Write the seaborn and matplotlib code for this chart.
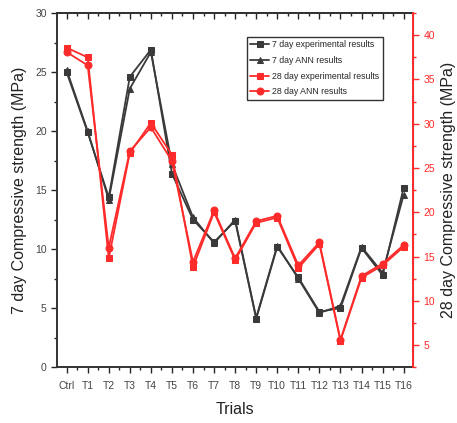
import numpy as np
import pandas as pd
import matplotlib
matplotlib.use("Agg")
import matplotlib.pyplot as plt
import seaborn as sns
from matplotlib.ticker import MultipleLocator

sns.set_style("ticks")
plt.rcParams['font.family'] = ['Liberation Sans', 'DejaVu Sans']

trials = ['Ctrl', 'T1', 'T2', 'T3', 'T4', 'T5', 'T6', 'T7', 'T8', 'T9',
          'T10', 'T11', 'T12', 'T13', 'T14', 'T15', 'T16']

exp_7 = [25.0, 19.9, 14.4, 24.6, 26.9, 16.4, 12.5, 10.6, 12.4, 4.1,
         10.2, 7.6, 4.7, 5.0, 10.1, 7.8, 15.2]
ann_7 = [25.2, 20.0, 14.2, 23.6, 26.7, 17.2, 12.7, 10.5, 12.5, 4.2,
         10.3, 7.5, 4.6, 5.2, 10.2, 8.0, 14.6]
exp_28 = [38.6, 37.5, 14.8, 26.7, 30.1, 26.5, 13.8, 20.0, 14.6, 18.8,
          19.4, 13.7, 16.4, 5.5, 12.6, 14.0, 16.1]
ann_28 = [38.1, 36.6, 16.0, 26.9, 29.6, 25.8, 14.4, 20.2, 14.8, 19.0,
          19.6, 14.0, 16.6, 5.6, 12.8, 14.2, 16.3]

df = pd.DataFrame({'pos': np.arange(len(trials)), 'trial': trials,
                   'exp_7': exp_7, 'ann_7': ann_7,
                   'exp_28': exp_28, 'ann_28': ann_28})

black = '#3a3a3a'
red = '#ff2a2a'

fig = plt.figure(figsize=(4.57, 4.23), dpi=100)
ax = fig.add_axes([0.125, 0.132, 0.779, 0.837])
ax2 = ax.twinx()

sns.lineplot(data=df, x='pos', y='exp_7', ax=ax, color=black, marker='s',
             markersize=4, markeredgecolor=black, lw=1.3,
             label='7 day experimental results', legend=False)
sns.lineplot(data=df, x='pos', y='ann_7', ax=ax, color=black, marker='^',
             markersize=5, markeredgecolor=black, lw=1.3,
             label='7 day ANN results', legend=False)
sns.lineplot(data=df, x='pos', y='exp_28', ax=ax2, color=red, marker='s',
             markersize=4, markeredgecolor=red, lw=1.3,
             label='28 day experimental results', legend=False)
sns.lineplot(data=df, x='pos', y='ann_28', ax=ax2, color=red, marker='o',
             markersize=5, markeredgecolor=red, lw=1.3,
             label='28 day ANN results', legend=False)

ax.set_xlim(-0.45, 16.45)
ax.set_ylim(0, 30)
ax2.set_ylim(2.5, 42.5)

ax.set_xticks(df['pos'])
ax.set_xticklabels(trials, fontsize=7.5, color='#444444')
ax.xaxis.set_minor_locator(MultipleLocator(0.5))
ax.tick_params(axis='x', which='major', direction='out', length=4, width=1, pad=6)
ax.tick_params(axis='x', which='minor', direction='out', length=2.5, width=1)
ax.yaxis.set_major_locator(MultipleLocator(5))
ax.yaxis.set_minor_locator(MultipleLocator(2.5))
ax.tick_params(axis='y', labelsize=7.5, labelcolor='#444444', direction='out', length=4, width=1)
ax.tick_params(axis='y', which='minor', direction='out', length=2.5, width=1)

# top axis with inward ticks, no labels
top = ax.secondary_xaxis('top')
top.set_xticks(df['pos'])
top.xaxis.set_minor_locator(MultipleLocator(0.5))
top.tick_params(axis='x', which='major', direction='in', length=4, width=1, labeltop=False)
top.tick_params(axis='x', which='minor', direction='in', length=2.5, width=1)
top.spines['top'].set_color('#333333')
top.spines['top'].set_linewidth(1.4)

ax2.yaxis.set_major_locator(MultipleLocator(5))
ax2.yaxis.set_minor_locator(MultipleLocator(2.5))
ax2.tick_params(axis='y', colors=red, labelsize=7.5, direction='out', length=4, width=1)
ax2.tick_params(axis='y', which='minor', colors=red, direction='out', length=2.5, width=1)

for s in ['left', 'bottom', 'top']:
    ax.spines[s].set_color('#333333')
    ax.spines[s].set_linewidth(1.4)
ax2.spines['right'].set_color(red)
ax2.spines['right'].set_linewidth(1.4)
ax2.spines['left'].set_visible(False)
ax2.spines['top'].set_visible(False)
ax2.spines['bottom'].set_visible(False)

ax.set_xlabel('Trials', fontsize=11.5, color='#222222', labelpad=8)
ax.set_ylabel('7 day Compressive strength (MPa)', fontsize=11.5, color='#222222', labelpad=6)
ax2.set_ylabel('28 day Compressive strength (MPa)', fontsize=11.5, color='#222222', labelpad=4)

h1, l1 = ax.get_legend_handles_labels()
h2, l2 = ax2.get_legend_handles_labels()
leg = ax2.legend(h1 + h2, l1 + l2, loc='upper left', bbox_to_anchor=(0.52, 0.945),
                 fontsize=6.3, frameon=True, fancybox=False, handlelength=2.2,
                 borderpad=0.4, labelspacing=0.75, handletextpad=0.3)
leg.get_frame().set_edgecolor('black')
leg.get_frame().set_linewidth(1.0)

fig.savefig('out.png', dpi=100)
